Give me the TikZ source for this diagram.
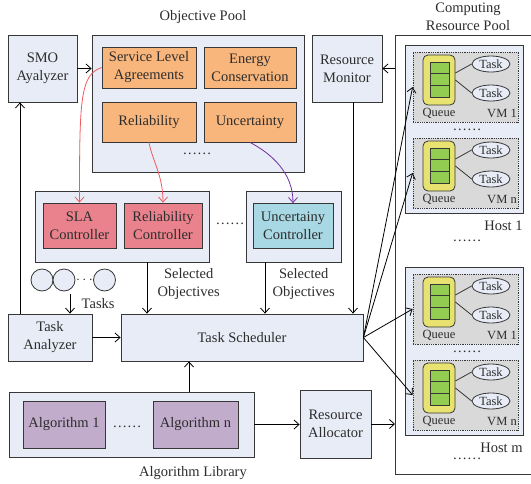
\documentclass[tikz,border=0pt]{standalone}
\usepackage{fontspec}
\setmainfont{Liberation Serif}
\usepackage{tikz}
\usetikzlibrary{shapes.geometric,arrows.meta}

\definecolor{pale}{RGB}{232,236,246}
\definecolor{objorange}{RGB}{248,182,124}
\definecolor{ctrlred}{RGB}{233,130,140}
\definecolor{ctrlcyan}{RGB}{168,216,227}
\definecolor{algpurple}{RGB}{194,172,204}
\definecolor{vmgrey}{RGB}{217,217,217}
\definecolor{qyellow}{RGB}{232,226,112}
\definecolor{qgreen}{RGB}{146,204,80}
\definecolor{edge}{RGB}{55,55,55}
\definecolor{txt}{RGB}{45,45,45}
\definecolor{arrred}{RGB}{240,90,95}
\definecolor{arrpurple}{RGB}{112,48,160}

\begin{document}
\begin{tikzpicture}[x=1pt,y=-1pt,line width=0.8pt,
  >={Straight Barb[length=5pt,width=9pt]},
  every node/.style={font=\fontsize{14.5}{18}\selectfont,text=txt},
  box/.style={draw=edge,fill=pale,inner sep=0pt,align=center},
  objbox/.style={box,fill=objorange,minimum height=41pt},
  ctrlbox/.style={box,minimum height=45pt},
  algbox/.style={box,fill=algpurple,minimum height=47pt},
  hostbox/.style={box,minimum width=118pt,minimum height=168pt},
  vmbox/.style={draw=edge,densely dotted,fill=vmgrey,minimum width=105pt,minimum height=70pt,inner sep=0pt},
  queuebox/.style={draw=edge,fill=qyellow,rounded corners=5pt,minimum width=32pt,minimum height=50pt,inner sep=0pt},
  cellbox/.style={draw=edge,fill=qgreen,minimum width=19pt,minimum height=11.7pt,inner sep=0pt},
  taskell/.style={ellipse,draw=edge,fill=pale,minimum width=38pt,minimum height=16pt,inner sep=0pt,
    font=\fontsize{12.5}{14}\selectfont},
  smalltxt/.style={font=\fontsize{12.5}{14}\selectfont,inner sep=0pt}]
\useasboundingbox (0,0) rectangle (531,483);

% objectives
\node[box,minimum width=69pt,minimum height=67pt] (smo) at (42.5,68.5) {SMO\\Ayalyzer};
\node[box,minimum width=212pt,minimum height=137pt] (objpool) at (198,103.5) {};
\node (objlabel) at (203,17) {Objective Pool};
\node[objbox,minimum width=94pt] (sla) at (149,67.5) {Service Level\\Agreements};
\node[objbox,minimum width=92pt] (energy) at (250,67.5) {Energy\\Conservation};
\node[objbox,minimum width=94pt,minimum height=40pt] (reli) at (149,122) {Reliability};
\node[objbox,minimum width=92pt,minimum height=40pt] (uncert) at (250,122) {Uncertainty};
\node (objdots) at (197,154) {……};
\node[box,minimum width=70pt,minimum height=67pt] (monitor) at (347,68.5) {Resource\\Monitor};

% controllers
\node[box,minimum width=174pt,minimum height=71pt] (ctrlA) at (122,226.5) {};
\node[ctrlbox,fill=ctrlred,minimum width=73pt] (slactrl) at (79.5,225.5) {SLA\\Controller};
\node[ctrlbox,fill=ctrlred,minimum width=78pt] (relctrl) at (163,225.5) {Reliability\\Controller};
\node (ctrldots) at (230,224) {……};
\node[box,minimum width=95pt,minimum height=71pt] (ctrlB) at (293.5,226.5) {};
\node[ctrlbox,fill=ctrlcyan,minimum width=80pt] (uncctrl) at (293,226) {Uncertainy\\Controller};

% incoming tasks
\node[circle,draw=edge,fill=pale,minimum size=22pt,inner sep=0pt] (task1) at (42,280) {};
\node[circle,draw=edge,fill=pale,minimum size=22pt,inner sep=0pt] (task2) at (64,280) {};
\node[inner sep=0pt] (taskdots) at (84.5,280) {$\cdots$};
\node[circle,draw=edge,fill=pale,minimum size=22pt,inner sep=0pt] (task3) at (104.5,280) {};
\coordinate (tasksin) at (70,294);

\node[box,minimum width=84pt,minimum height=47pt] (analyzer) at (50,337.5) {Task\\Analyzer};
\node[box,minimum width=242pt,minimum height=47pt] (sched) at (242,337.5) {Task Scheduler};

% algorithms
\node[box,minimum width=245pt,minimum height=65pt] (alglib) at (131.5,424.5) {};
\node[algbox,minimum width=82pt] (alg1) at (64,424.5) {Algorithm 1};
\node (algdots) at (127,427) {……};
\node[algbox,minimum width=85pt] (algn) at (195.5,424.5) {Algorithm n};
\node (alglabel) at (193,473) {Algorithm Library};
\node[box,minimum width=71pt,minimum height=68pt] (alloc) at (335.5,424) {Resource\\Allocator};

% computing resource pool
\coordinate (rpnw) at (395,35);
\coordinate (rpsw) at (395,474);
\draw[edge] (531,35) -- (rpnw) -- (rpsw) -- (531,474);
\node[align=center] (rplabel) at (468,17) {Computing\\Resource Pool};
\node (hostdots) at (467,241) {……};
\node (lastdots) at (467,459) {……};

\foreach \hn/\hy in {1/45,m/267}{
  \node[hostbox] (host\hn) at (464,\hy+84) {};
  \node[anchor=east,inner sep=0pt] (hostlbl\hn) at (523,\hy+181) {Host \hn};
  \node (vmdots\hn) at (467,\hy+85) {……};
  \foreach \vn/\vy in {1/\hy+7,n/\hy+93}{
    \node[vmbox] (vm\hn\vn) at (465.5,\vy+35) {};
    \node[queuebox] (queue\hn\vn) at (439,\vy+28) {};
    \foreach \cl in {0,1,2}
      \node[cellbox] (cell\hn\vn\cl) at (439.5,\vy+15.8+\cl*11.7) {};
    \node[taskell] (taska\hn\vn) at (491,\vy+12) {Task};
    \node[taskell] (taskb\hn\vn) at (491,\vy+41) {Task};
    \draw[edge] ([yshift=7pt]queue\hn\vn.east) -- (taska\hn\vn.west);
    \draw[edge] (queue\hn\vn.east) -- (taskb\hn\vn.west);
    \node[smalltxt] (qlbl\hn\vn) at (439,\vy+61) {Queue};
    \node[smalltxt] (vmlbl\hn\vn) at (502,\vy+61) {VM \vn};
  }
}

% connectors
\draw[->] ([xshift=-30pt]analyzer.north) -- ([xshift=-30pt]analyzer.north |- smo.south);
\draw[->] (smo.east) -- (smo.east -| objpool.west);
\draw[->,arrred] (sla.west) .. controls (80,75) and (79.5,100) .. (slactrl.north);
\draw[->,arrred] (reli.south) .. controls (152,160) and (163,175) .. (relctrl.north);
\draw[->,arrpurple] (uncert.south) .. controls (272,154) and (293,173) .. (uncctrl.north);
\draw[->] ([xshift=25pt]ctrlA.south) -- node[right,align=center,xshift=7pt,yshift=4pt] {Selected\\Objectives}
  ([xshift=25pt]ctrlA.south |- sched.north);
\draw[->] ([xshift=-28.5pt]ctrlB.south) -- node[right,align=center,xshift=4pt,yshift=4pt] {Selected\\Objectives}
  ([xshift=-28.5pt]ctrlB.south |- sched.north);
\draw[->] ([xshift=6pt]monitor.south) -- ([xshift=6pt]monitor.south |- sched.north);
\draw[->] (tasksin) -- node[right,xshift=8pt] {Tasks} (tasksin |- analyzer.north);
\draw[->] (analyzer.east) -- (sched.west);
\draw[->] ([xshift=57.5pt]alglib.north) -- ([xshift=57.5pt]alglib.north |- sched.south);
\draw[->] (alglib.east) -- (alglib.east -| alloc.west);
\draw[->] (alloc.east) -- (alloc.east -| rpnw);
\draw[->] (monitor.east -| rpnw) -- (monitor.east);
\foreach \hn in {1,m}
  \foreach \vn in {1,n}
    \draw[->] (sched.east) -- (vm\hn\vn.west);
\end{tikzpicture}
\end{document}
